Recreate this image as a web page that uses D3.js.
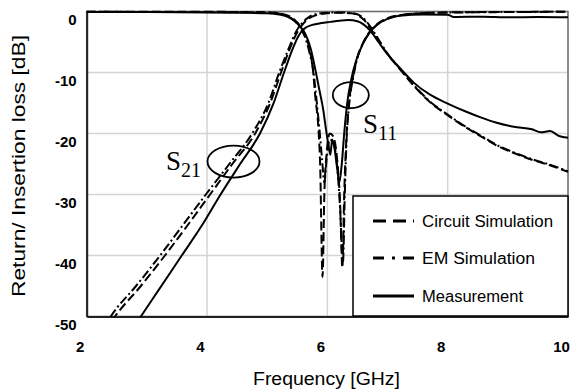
<!DOCTYPE html>
<html>
<head>
<meta charset="utf-8">
<script src="https://cdn.jsdelivr.net/npm/d3@7"></script>
<style>
  html, body { margin: 0; padding: 0; background: #fff; }
  svg { display: block; }
  .tick-label { font-family: "Liberation Sans", Arial, sans-serif; font-weight: bold; font-size: 15px; fill: #000; }
  .axis-title { font-family: "Liberation Sans", Arial, sans-serif; font-size: 18px; fill: #000; }
  .legend-text { font-family: "Liberation Sans", Arial, sans-serif; font-size: 16px; fill: #000; }
  .s-label { font-family: "Liberation Serif", "Times New Roman", serif; fill: #000; }
</style>
</head>
<body>
<div id="chart"></div>
<script>
// --- Dữ liệu ---
const xTicks = [2, 4, 6, 8, 10];
const yTicks = [0, -10, -20, -30, -40, -50];

// S21 (insertion loss), [GHz, dB]
const s21Circuit = [[2.3,-52.5],[2.47,-50],[2.9,-45],[3.3,-40],[3.68,-35],[4.05,-30],[4.42,-25],[4.8,-20],[5.05,-15],[5.23,-10],[5.38,-6],[5.5,-3.4],[5.6,-2],[5.7,-1.1],[5.85,-0.5],[6.0,-0.3],[6.2,-0.2],[6.4,-0.3],[6.52,-0.7],[6.62,-1.5],[6.72,-2.8],[6.85,-4.8],[7.0,-7],[7.2,-9.4],[7.44,-12.2],[7.7,-14.8],[8.0,-17],[8.3,-19],[8.56,-20.5],[8.8,-21.9],[9.1,-23.2],[9.4,-24.3],[9.7,-25.2],[10,-26.3]];
const s21Em = [[2.25,-52.5],[2.4,-50],[2.82,-45],[3.22,-40],[3.6,-35],[3.98,-30],[4.37,-25],[4.75,-20],[5.02,-15],[5.2,-10],[5.36,-6],[5.48,-3.3],[5.58,-1.9],[5.68,-1],[5.82,-0.4],[6.0,-0.2],[6.2,-0.15],[6.4,-0.25],[6.53,-0.6],[6.63,-1.4],[6.73,-2.7],[6.86,-4.7],[7.0,-6.9],[7.2,-9.3],[7.44,-12.1],[7.7,-14.7],[8.0,-16.9],[8.3,-18.9],[8.56,-20.4],[8.8,-21.8],[9.1,-23.1],[9.4,-24.2],[9.7,-25.1],[10,-26.2]];
const s21Meas = [[2.7,-53],[2.9,-50],[3.2,-45.6],[3.58,-40],[3.9,-35.3],[4.2,-30.4],[4.55,-25],[4.88,-20],[5.1,-15.2],[5.28,-10],[5.42,-6.2],[5.52,-4],[5.62,-2.8],[5.75,-2.2],[5.9,-1.9],[6.05,-1.7],[6.2,-1.5],[6.35,-1.4],[6.5,-1.6],[6.6,-2.1],[6.72,-3.2],[6.85,-5],[7.0,-7],[7.2,-9.2],[7.44,-11.7],[7.7,-13.6],[8.0,-15.1],[8.3,-16.4],[8.56,-17.4],[8.8,-18.2],[9.1,-18.9],[9.4,-19.3],[9.55,-19.8],[9.7,-19.6],[9.85,-20.4],[10,-20.7]];

// S11 (return loss), [GHz, dB]
const s11Circuit = [[2,-0.05],[4,-0.05],[5,-0.15],[5.2,-0.3],[5.35,-0.7],[5.45,-1.3],[5.55,-2.4],[5.62,-3.6],[5.7,-6],[5.76,-9.5],[5.8,-14],[5.85,-19],[5.88,-25],[5.92,-43.5],[5.95,-30],[5.99,-23],[6.04,-20],[6.1,-20.5],[6.16,-24],[6.21,-31],[6.25,-42],[6.28,-30],[6.31,-22],[6.35,-16],[6.42,-11],[6.5,-7.5],[6.6,-5],[6.72,-3.1],[6.85,-1.9],[7.0,-1.1],[7.3,-0.5],[7.8,-0.2],[8.5,-0.1],[10,-0.05]];
const s11Em = [[2,-0.05],[5,-0.15],[5.2,-0.35],[5.35,-0.8],[5.45,-1.5],[5.55,-2.7],[5.62,-4],[5.7,-6.6],[5.77,-10],[5.82,-14.5],[5.87,-19.5],[5.91,-24],[5.95,-28],[5.99,-24],[6.04,-21],[6.1,-21.5],[6.16,-25],[6.21,-32],[6.26,-41],[6.29,-30],[6.32,-21],[6.36,-15.5],[6.43,-10.8],[6.5,-7.6],[6.6,-5.1],[6.72,-3.2],[6.85,-2],[7.0,-1.2],[7.3,-0.5],[7.8,-0.2],[10,-0.05]];
const s11Meas = [[2,-0.1],[3,-0.1],[4,-0.15],[4.5,-0.2],[5,-0.3],[5.2,-0.5],[5.35,-0.9],[5.45,-1.5],[5.55,-2.5],[5.63,-3.6],[5.72,-6],[5.8,-9.5],[5.87,-13],[5.93,-16],[5.98,-19.5],[6.02,-22],[6.05,-23.5],[6.08,-21],[6.12,-22.5],[6.16,-25.5],[6.2,-28],[6.24,-25],[6.28,-20],[6.33,-15],[6.4,-11],[6.48,-8],[6.58,-5.5],[6.7,-3.5],[6.82,-2.2],[7.0,-1.2],[7.2,-0.7],[7.6,-0.5],[8.0,-0.55],[8.1,-0.9],[8.6,-0.85],[9,-0.95],[9.5,-0.9],[10,-0.95]];

const legendLabels = ["Circuit Simulation", "EM Simulation", "Measurement"];

// --- Khung vẽ ---
const W = 579, H = 389;
const margin = { top: 11.5, right: 11, bottom: 72.5, left: 86.7 };
const width = W - margin.left - margin.right;
const height = H - margin.top - margin.bottom;

const styles = {
    circuit: { dash: "9,4" },
    em: { dash: "9,3,2,3" },
    meas: { dash: null }
};

const svg = d3.select("#chart")
    .append("svg")
    .attr("width", W)
    .attr("height", H);

const g = svg.append("g")
    .attr("transform", `translate(${margin.left},${margin.top})`);

const x = d3.scaleLinear().domain([2, 10]).range([0, width]);
const y = d3.scaleLinear().domain([-50, 0]).range([height, 0]);

// lưới
g.append("g")
    .selectAll("line.gx")
    .data(xTicks)
    .enter().append("line")
    .attr("x1", d => x(d)).attr("x2", d => x(d))
    .attr("y1", 0).attr("y2", height)
    .attr("stroke", "#d4d4d4").attr("stroke-width", 1.5);

g.append("g")
    .selectAll("line.gy")
    .data(yTicks)
    .enter().append("line")
    .attr("x1", 0).attr("x2", width)
    .attr("y1", d => y(d)).attr("y2", d => y(d))
    .attr("stroke", "#d4d4d4").attr("stroke-width", 1.5);

// khung
g.append("rect")
    .attr("width", width).attr("height", height)
    .attr("fill", "none").attr("stroke", "#707070").attr("stroke-width", 1.5);

// trục
const yAxis = g.append("g").call(d3.axisLeft(y).tickValues(yTicks).tickSize(0).tickPadding(10));
yAxis.select(".domain").attr("stroke", "#222").attr("stroke-width", 2);
yAxis.selectAll("text").attr("class", "tick-label").attr("dy", "0.85em").attr("x", -10).attr("text-anchor", "end")
    .text(d => d);

const xAxis = g.append("g").attr("transform", `translate(0,${height})`)
    .call(d3.axisBottom(x).tickValues(xTicks).tickSize(0).tickPadding(0));
xAxis.select(".domain").attr("stroke", "#222").attr("stroke-width", 2);
xAxis.selectAll("text").attr("class", "tick-label").attr("y", 35).attr("dy", 0).attr("x", -7);

// đường cong
svg.append("defs").append("clipPath").attr("id", "plot-clip")
    .append("rect").attr("x", -2).attr("y", -2).attr("width", width + 4).attr("height", height + 3);

const line = d3.line()
    .x(d => x(d[0]))
    .y(d => y(d[1]))
    .curve(d3.curveMonotoneX);

const curves = [
    { data: s21Circuit, s: styles.circuit },
    { data: s21Em, s: styles.em },
    { data: s21Meas, s: styles.meas },
    { data: s11Circuit, s: styles.circuit },
    { data: s11Em, s: styles.em },
    { data: s11Meas, s: styles.meas }
];

const plot = g.append("g").attr("clip-path", "url(#plot-clip)");
plot.selectAll("path.curve")
    .data(curves)
    .enter().append("path")
    .attr("class", "curve")
    .attr("d", d => line(d.data))
    .attr("fill", "none")
    .attr("stroke", "#000")
    .attr("stroke-width", 2)
    .attr("stroke-dasharray", d => d.s.dash);

// vòng elip + nhãn S21 / S11
g.append("ellipse").attr("cx", x(4.44)).attr("cy", y(-24.6)).attr("rx", 26).attr("ry", 16)
    .attr("fill", "none").attr("stroke", "#000").attr("stroke-width", 1.8);
g.append("ellipse").attr("cx", x(6.39)).attr("cy", y(-13.7)).attr("rx", 18).attr("ry", 13)
    .attr("fill", "none").attr("stroke", "#000").attr("stroke-width", 1.8);

function sLabel(px, py, sub) {
    const t = svg.append("text").attr("class", "s-label").attr("x", px).attr("y", py);
    t.append("tspan").attr("font-size", 27).text("S");
    t.append("tspan").attr("font-size", 20).attr("dy", 7).text(sub);
}
sLabel(166, 170, "21");
sLabel(363, 133, "11");

// chú thích
const lg = svg.append("g").attr("transform", "translate(353,196)");
lg.append("rect").attr("width", 215).attr("height", 120)
    .attr("fill", "#fff").attr("stroke", "#000").attr("stroke-width", 1.5);

const legendDash = ["13,7", "11,8,3,8", null];
const legendY = [25, 62, 100];
const legendTextW = [131, 113, 101];
legendLabels.forEach((lab, i) => {
    lg.append("line").attr("x1", 20).attr("x2", 61)
        .attr("y1", legendY[i]).attr("y2", legendY[i])
        .attr("stroke", "#000").attr("stroke-width", 3)
        .attr("stroke-dasharray", legendDash[i]);
    lg.append("text").attr("class", "legend-text")
        .attr("x", 69).attr("y", legendY[i] + 6)
        .attr("textLength", legendTextW[i]).attr("lengthAdjust", "spacingAndGlyphs")
        .text(lab);
});

// tiêu đề trục
svg.append("text").attr("class", "axis-title")
    .attr("x", 326.5).attr("y", 385)
    .attr("text-anchor", "middle")
    .attr("textLength", 147).attr("lengthAdjust", "spacingAndGlyphs")
    .text("Frequency [GHz]");

svg.append("text").attr("class", "axis-title")
    .attr("transform", `translate(25,${margin.top + height / 2 + 2}) rotate(-90)`)
    .attr("text-anchor", "middle")
    .attr("textLength", 262).attr("lengthAdjust", "spacingAndGlyphs")
    .text("Return/ Insertion loss [dB]");
</script>
</body>
</html>
